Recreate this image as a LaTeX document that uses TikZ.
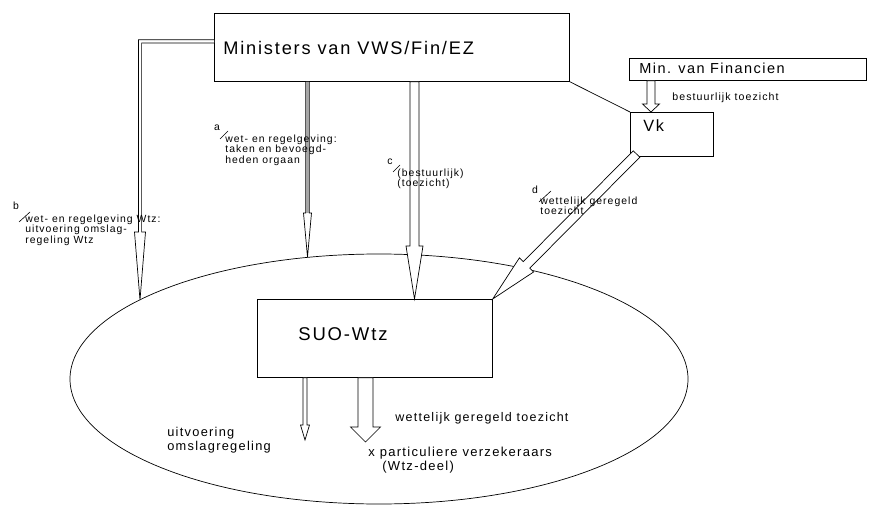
\documentclass[tikz,border=0pt]{standalone}
\usepackage{fontspec}
\setmainfont[LetterSpace=10]{Liberation Sans}
\usetikzlibrary{calc,shapes.geometric}
\newcommand\fs[2]{\fontsize{#1}{#2}\selectfont}
% hollow arrow: [style]{A}{B}{shaft half width}{head half width}{head length}
\newcommand\harrow[6][]{%
  \coordinate (hH) at ($(#3)!#6!(#2)$);
  \draw[harr,#1] ($(#2)!#4!90:(#3)$) -- ($(hH)!#4!90:(#3)$) -- ($(hH)!#5!90:(#3)$)
     -- (#3) -- ($(hH)!#5!-90:(#3)$) -- ($(hH)!#4!-90:(#3)$) -- ($(#2)!#4!-90:(#3)$) -- cycle;
}
\begin{document}
\begin{tikzpicture}[x=1pt,y=-1pt,line width=0.7pt,
  box/.style={draw,anchor=north west,inner sep=0pt,fill=white},
  harr/.style={draw,fill=white,line join=miter},
  lbl/.style={inner sep=0pt,align=left,anchor=north west,font=\fs{10.4}{10.6}},
  letter/.style={inner sep=0pt,font=\fs{10.4}{10.6}},
  slash/.style={line width=0.6pt},
  txt/.style={inner sep=0pt,anchor=base west}]
\useasboundingbox (0,0) rectangle (871,508);

% ellipse
\node[ellipse,draw,minimum width=618pt,minimum height=250pt,inner sep=0pt] (ell) at (379,379) {};

% boxes
\node[box,minimum width=355pt,minimum height=68pt] (ministers) at (214,13) {};
\node[box,minimum width=237pt,minimum height=22pt] (minfin) at (629,58) {};
\node[box,minimum width=83pt,minimum height=44pt] (vk) at (630,112) {};
\node[box,minimum width=235pt,minimum height=78pt] (suo) at (257,299) {};

\node[txt,font=\fs{18.2}{20}] (ministersT) at (223,55) {Ministers van VWS/Fin/EZ};
\node[txt,font=\fs{14.5}{16}] (minfinT) at (639,73.5) {Min. van Financien};
\node[txt,font=\fs{16.3}{18}] (vkT) at (643,131.5) {Vk};
\node[txt,font=\fs{18.5}{20}] (suoT) at (298,340.5) {SUO-Wtz};

% connector line
\draw (ministers.south east) -- (vk.north west);

% arrow b (elbow)
\coordinate (bA) at ([yshift=6pt]ministers.west);
\coordinate (bB) at (140,300);
\coordinate (bC) at (bA -| bB);
\coordinate (bH) at ([yshift=68pt]bB);
\draw[harr] ([yshift=1.6pt]bA) -- ([xshift=-1.6pt,yshift=1.6pt]bC) -- ([xshift=-1.6pt]bH)
  -- ([xshift=-5.5pt]bH) -- (bB) -- ([xshift=5.5pt]bH) -- ([xshift=1.6pt]bH)
  -- ([xshift=1.6pt,yshift=-1.6pt]bC) -- ([yshift=-1.6pt]bA);

% arrow a
\coordinate (aA) at ([xshift=93.5pt]ministers.south west);
\coordinate (aB) at (307.5,257);
\harrow{aA}{aB}{1.7pt}{4pt}{44pt}
\fill[gray!70] ([xshift=-1.1pt]aA) rectangle ([xshift=1.1pt]hH);

% arrow c
\coordinate (cA) at ([xshift=200.5pt]ministers.south west);
\coordinate (cB) at ([xshift=157.5pt]suo.north west);
\harrow{cA}{cB}{4.5pt}{8.5pt}{53pt}

% arrow Min. van Financien -> Vk
\coordinate (fA) at ([xshift=22pt]minfin.south west);
\coordinate (fB) at ([xshift=21pt]vk.north west);
\harrow{fA}{fB}{4pt}{8.5pt}{8pt}

% arrow d
\coordinate (dA) at ([xshift=6.5pt,yshift=2.7pt]vk.south west);
\harrow{dA}{suo.north east}{4.6pt}{10pt}{48pt}

% bottom arrows
\coordinate (tA) at ([xshift=48pt]suo.south west);
\coordinate (tB) at (305,440);
\harrow{tA}{tB}{2pt}{4.5pt}{15pt}
\coordinate (wA) at ([xshift=108.5pt]suo.south west);
\coordinate (wB) at (365.5,442);
\harrow{wA}{wB}{7.5pt}{15pt}{15pt}

% labels
\node[letter] (aL) at (217,128) {a};
\draw[slash] ([shift={(3,11)}]aL.center) -- ([shift={(11,3)}]aL.center);
\node[lbl] (aT) at (225,134.5) {wet- en regelgeving:\\taken en bevoegd-\\heden orgaan};

\node[letter] (bL) at (16,206) {b};
\draw[slash] ([shift={(3,16)}]bL.center) -- ([shift={(14,6)}]bL.center);
\node[lbl] (bT) at (25,214.5) {wet- en regelgeving Wtz:\\uitvoering omslag-\\regeling Wtz};

\node[letter] (cL) at (390,162) {c};
\draw[slash] ([shift={(3,10)}]cL.center) -- ([shift={(10,3)}]cL.center);
\node[lbl] (cT) at (397,168.5) {(bestuurlijk)\\(toezicht)};

\node[letter] (dL) at (535,190) {d};
\draw[slash] ([shift={(4,12)}]dL.center) -- ([shift={(16,1)}]dL.center);
\node[lbl] (dT) at (540,196.5) {wettelijk geregeld\\toezicht};

\node[inner sep=0pt,anchor=west,font=\fs{10.6}{12}] (bestT) at (672,98) {bestuurlijk toezicht};

\node[inner sep=0pt,align=left,anchor=north west,font=\fs{12.8}{14}] (uitT) at (167,427) {uitvoering\\omslagregeling};
\node[inner sep=0pt,anchor=west,font=\fs{12.5}{14}] (wgtT) at (395,418) {wettelijk geregeld toezicht};
\node[inner sep=0pt,align=left,anchor=north west,font=\fs{13}{14}] (partT) at (368,447) {x particuliere verzekeraars\\\hspace*{14pt}(Wtz-deel)};
\end{tikzpicture}
\end{document}
